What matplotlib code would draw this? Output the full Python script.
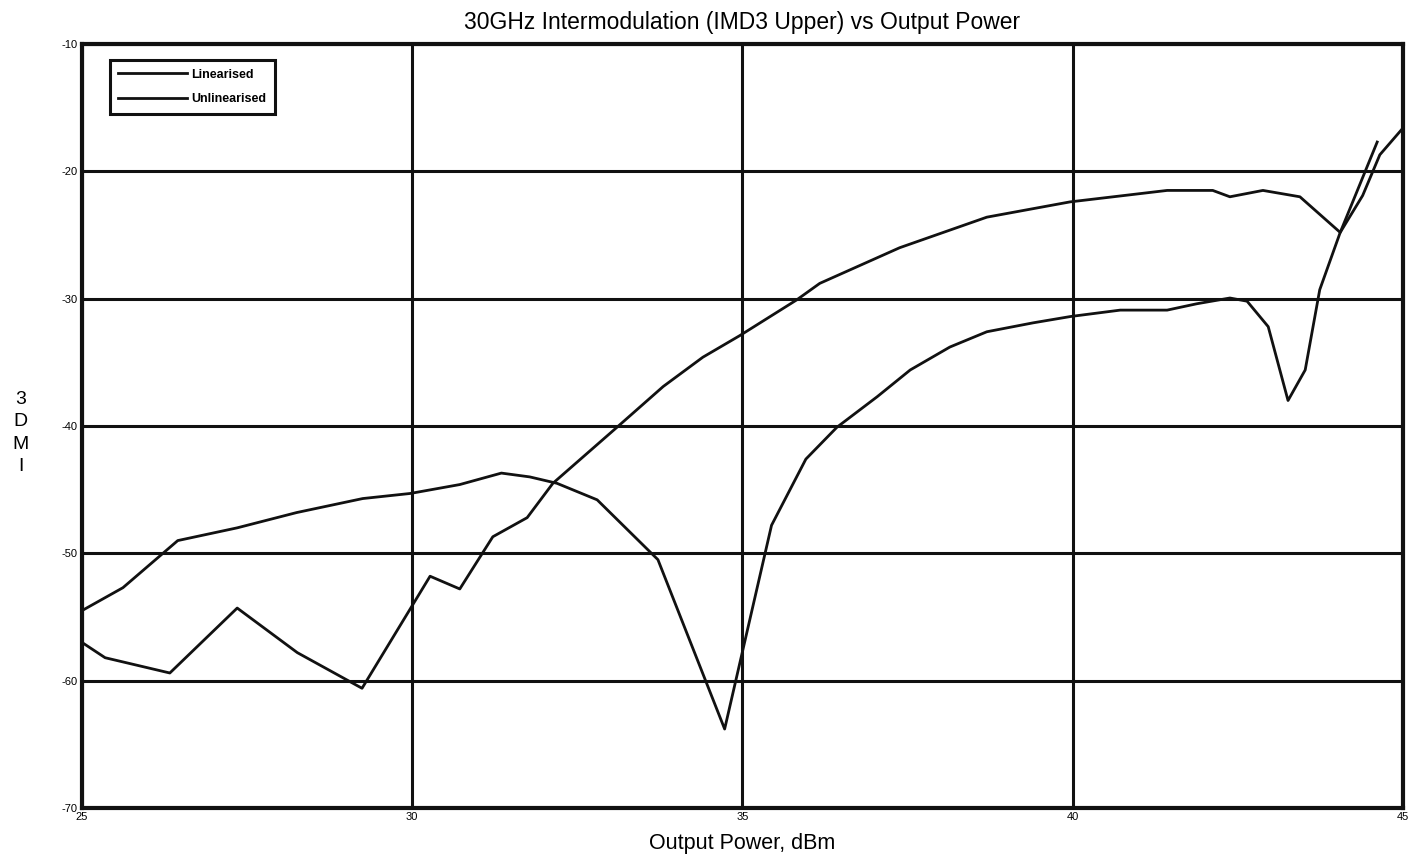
import matplotlib.pyplot as plt

# IMD3 upper sideband at 30 GHz, read per output power step
lin_pout = [25.0, 25.62, 26.45, 27.35, 28.25, 29.25, 29.97, 30.72, 31.35, 31.78,
            32.19, 32.80, 33.72, 34.73, 35.44, 35.96, 36.43, 37.04, 37.54, 38.14,
            38.70, 39.40, 39.97, 40.72, 41.43, 41.88, 42.38, 42.64, 42.96, 43.26,
            43.52, 43.74, 44.05, 44.61]
lin_imd3 = [-54.5, -52.7, -49.0, -48.0, -46.8, -45.7, -45.3, -44.6, -43.7, -44.0,
            -44.5, -45.8, -50.5, -63.8, -47.8, -42.6, -40.1, -37.7, -35.6, -33.8,
            -32.6, -31.9, -31.4, -30.9, -30.9, -30.4, -29.95, -30.2, -32.2, -38.0,
            -35.6, -29.3, -24.8, -17.7]

unlin_pout = [25.0, 25.35, 26.33, 27.35, 28.26, 29.24, 30.27, 30.72, 31.22, 31.74,
              32.13, 33.10, 33.80, 34.40, 34.96, 35.82, 36.17, 37.38, 38.70, 39.96,
              41.43, 42.12, 42.38, 42.88, 43.44, 44.05, 44.39, 44.65, 45.0]
unlin_imd3 = [-57.0, -58.2, -59.4, -54.3, -57.8, -60.6, -51.8, -52.8, -48.7, -47.2,
              -44.5, -40.1, -36.9, -34.6, -32.9, -30.1, -28.8, -26.0, -23.6, -22.4,
              -21.5, -21.5, -22.0, -21.5, -22.0, -24.8, -21.9, -18.7, -16.6]

xticks = [25, 30, 35, 40, 45]
yticks = [-70, -60, -50, -40, -30, -20, -10]

plt.rcParams['font.family'] = ['Liberation Sans', 'DejaVu Sans']

fig = plt.figure(figsize=(14.21, 8.61), dpi=100)
ax = fig.add_axes([0.0577, 0.0616, 0.9296, 0.8873])

ax.plot(lin_pout, lin_imd3, color='#111111', lw=2.0, label='Linearised')
ax.plot(unlin_pout, unlin_imd3, color='#111111', lw=2.0, label='Unlinearised')

ax.set_xlim(25, 45)
ax.set_ylim(-70, -10)
ax.set_xticks(xticks)
ax.set_yticks(yticks)
ax.set_xticklabels([str(t) for t in xticks], fontsize=8)
ax.set_yticklabels([str(t) for t in yticks], fontsize=8)
ax.tick_params(length=0, pad=3)
ax.grid(True, color='#111111', lw=2.2)
ax.set_axisbelow(True)
for s in ax.spines.values():
    s.set_linewidth(3)
    s.set_color('#111111')

ax.set_title('30GHz Intermodulation (IMD3 Upper) vs Output Power',
             fontsize=16.5, pad=11)
ax.set_xlabel('Output Power, dBm', fontsize=15.5, labelpad=8)
fig.text(0.0145, 0.497, '3\nD\nM\nI', ha='center', va='center', fontsize=14,
         linespacing=1.4)

leg = ax.legend(loc='upper left', bbox_to_anchor=(0.021, 0.979), borderaxespad=0,
                fancybox=False, edgecolor='#111111', framealpha=1, handlelength=5.5,
                handletextpad=0.3, labelspacing=1.0, borderpad=0.7,
                prop={'size': 9, 'weight': 'bold'})
leg.get_frame().set_linewidth(2.2)

fig.savefig('out.png', dpi=100)
